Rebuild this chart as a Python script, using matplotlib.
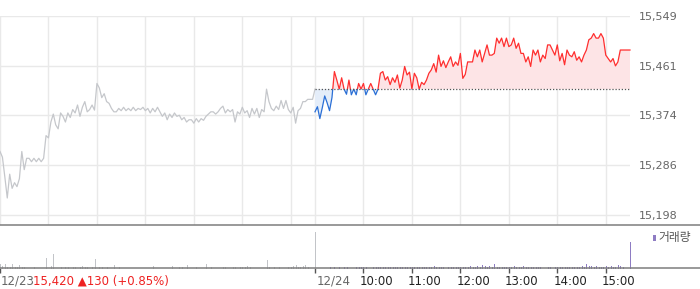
import numpy as np
import matplotlib
matplotlib.use("Agg")
import matplotlib.pyplot as plt
from matplotlib.patches import Rectangle
from matplotlib.lines import Line2D

# ---------------- data ----------------
base_price = 15420
y_ticks = [15198, 15286, 15374, 15461, 15549]
y_tick_labels = ["15,198", "15,286", "15,374", "15,461", "15,549"]
date_labels = ["12/23", "12/24"]
time_labels = ["10:00", "11:00", "12:00", "13:00", "14:00", "15:00"]
header_text = "15,420 \u25b2130 (+0.85%)"
legend_text = "거래량"

# 12/23 prices (3-minute samples, 09:00-15:30)
day1_prices = [
    15310, 15300, 15265, 15228, 15270, 15245, 15255, 15248, 15262, 15310,
    15278, 15298, 15298, 15292, 15298, 15292, 15298, 15292, 15298, 15338,
    15334, 15362, 15376, 15357, 15350, 15378, 15372, 15362, 15378, 15370,
    15384, 15378, 15392, 15372, 15388, 15398, 15380, 15384, 15392, 15383,
    15430, 15422, 15405, 15412, 15398, 15395, 15386, 15380, 15380, 15386,
    15382, 15388, 15382, 15386, 15382, 15388, 15382, 15386, 15384, 15388,
    15382, 15386, 15378, 15386, 15380, 15388, 15380, 15372, 15378, 15366,
    15376, 15370, 15378, 15372, 15374, 15366, 15370, 15362, 15366, 15366,
    15360, 15368, 15362, 15368, 15365, 15372, 15376, 15380, 15380, 15376,
    15380, 15386, 15390, 15378, 15384, 15380, 15384, 15362, 15380, 15376,
    15388, 15378, 15382, 15370, 15386, 15376, 15386, 15370, 15384, 15380,
    15420, 15398, 15386, 15382, 15390, 15384, 15400, 15386, 15400, 15384,
    15378, 15388, 15360, 15382, 15386, 15398, 15398, 15402, 15402, 15402,
    15420,
]

# 12/24 prices (3-minute samples, 09:00-15:30)
day2_prices = [
    15380, 15389, 15368, 15387, 15408, 15396, 15382, 15405, 15451, 15436,
    15420, 15440, 15420, 15411, 15436, 15410, 15420, 15410, 15430, 15420,
    15430, 15410, 15420, 15430, 15420, 15410, 15420, 15448, 15451, 15436,
    15442, 15428, 15440, 15432, 15445, 15422, 15436, 15460, 15445, 15450,
    15420, 15448, 15440, 15420, 15432, 15428, 15436, 15448, 15454, 15465,
    15450, 15480, 15460, 15470, 15458, 15468, 15477, 15460, 15468, 15462,
    15483, 15439, 15446, 15468, 15468, 15468, 15489, 15477, 15489, 15468,
    15483, 15498, 15480, 15480, 15483, 15510, 15501, 15510, 15495, 15510,
    15495, 15498, 15510, 15492, 15501, 15483, 15483, 15468, 15477, 15460,
    15489, 15480, 15489, 15468, 15480, 15474, 15498, 15498, 15489, 15480,
    15498, 15470, 15483, 15463, 15489, 15480, 15477, 15486, 15471, 15477,
    15468, 15480, 15489, 15507, 15510, 15518, 15510, 15510, 15518, 15510,
    15480, 15474, 15468, 15474, 15461, 15468, 15489, 15489, 15489, 15489,
    15489,
]

# volumes (thousand shares)
day1_volume = [
    4, 2, 4, 1.3, 1.3, 4, 1.3, 1.3, 3.3, 1.3,
    1.3, 0.7, 0, 0.7, 1.3, 0.7, 0, 0, 0, 10,
    0, 2.3, 14.3, 0, 0, 1.3, 0, 1.3, 1.3, 0.7,
    1.3, 1.3, 0.7, 1.3, 2, 1.3, 1.3, 0, 1.3, 9.3,
    0, 1.3, 1, 0, 1.3, 0, 0, 3.3, 0, 1.3,
    0, 0, 0, 0, 0, 0, 0, 0, 0, 0,
    0, 0, 0, 2.3, 0, 0, 0, 0, 0, 0,
    0, 2.3, 0, 0, 1.3, 1.3, 0, 3.3, 0, 0,
    0, 1.3, 0, 0, 0, 4.3, 0, 1, 0, 0,
    0, 0, 1.3, 1.3, 0, 0, 1.3, 1.3, 0, 1.3,
    1.3, 1.3, 2, 1.3, 0, 0, 0, 0, 0, 0,
    8.3, 1.3, 0, 1.3, 0, 1.3, 0, 0, 0, 1.3,
    1.3, 2, 3.3, 1.3, 1.3, 2, 3.3, 1.3, 0, 0,
    36,
]
day2_volume = [
    0.7, 0, 0, 0, 0, 0, 1, 0, 1, 0,
    1, 0, 1.3, 1.3, 0, 0, 0, 1, 1, 1,
    1, 1, 0, 0, 1, 1, 1, 1, 1, 1,
    1.3, 1, 1, 1.3, 1, 1, 1.3, 1, 1, 1.3,
    1, 1.3, 1, 1, 1.3, 1, 1.3, 1, 1.3, 2.3,
    1.3, 1, 1.3, 1, 0, 1, 1.3, 1, 1, 1.3,
    1, 1.3, 1, 1.3, 2, 1.3, 1.6, 2, 1.3, 3,
    2, 1.6, 2, 1.3, 4, 1.3, 1, 1.6, 1.3, 1,
    1.3, 1.6, 2, 1.3, 1.6, 1.3, 2.3, 1.3, 1, 1.3,
    1.3, 1, 1.3, 1, 0, 0, 1, 1.3, 0, 1,
    1.3, 1, 1.3, 1.3, 1, 1.3, 1.6, 1.3, 1.3, 1.6,
    2, 1.6, 4.7, 2.3, 2, 1.6, 2, 1.6, 1.3, 1.6,
    2, 1.6, 2.6, 1.3, 1.6, 3.7, 2, 1.3, 0, 0,
    26.3,
]

# ---------------- layout ----------------
W, H = 700, 289
STEP = 3            # minutes per sample
DAY = 390           # minutes per session
x1 = np.arange(len(day1_prices)) * STEP
x2 = DAY + np.arange(len(day2_prices)) * STEP
p1 = np.array(day1_prices, float)
p2 = np.array(day2_prices, float)

plt.rcParams['font.family'] = ['DejaVu Sans', 'Noto Sans CJK KR']

fig = plt.figure(figsize=(W / 100, H / 100), dpi=100)
fig.patch.set_facecolor("white")

def fx(px):
    return px / W

def fy(py):
    return 1 - py / H

plot_right = 630
main_top, main_bottom = 16, 225
vol_top, vol_bottom = 225, 268.3

ax = fig.add_axes([0, fy(main_bottom), fx(plot_right), (main_bottom - main_top) / H])
axv = fig.add_axes([0, fy(vol_bottom), fx(plot_right), (vol_bottom - vol_top) / H])

xmax = 2 * DAY
ymax = 15549
ymin = ymax - (main_bottom - main_top) * (351 / 199.0)
ax.set_xlim(0, xmax)
ax.set_ylim(ymin, ymax)

# grid
grid_c = "#e9e9e9"
for t in y_ticks:
    ax.axhline(t, color=grid_c, lw=1.0, zorder=0)
vgrid = [0, 60, 120, 180, 240, 300, 360, 390, 450, 510, 570, 630, 690, 750]
for g in vgrid:
    ax.plot([g, g], [ymin, ymax], color=grid_c, lw=1.0, zorder=0)

# previous day line
ax.plot(x1, p1, color="#c5c7cb", lw=0.9, zorder=3)

# today fills
ax.fill_between(x2, p2, base_price, where=p2 >= base_price, interpolate=True,
                color="#fde4e6", lw=0, zorder=1)
ax.fill_between(x2, p2, base_price, where=p2 <= base_price, interpolate=True,
                color="#e4edf9", lw=0, zorder=1)

# today line, coloured above/below base
red_line, = ax.plot(x2, p2, color="#ff2f2f", lw=0.9, zorder=4)
blue_line, = ax.plot(x2, p2, color="#2a6fd6", lw=0.9, zorder=4)
clip_up = Rectangle((DAY - 5, base_price), xmax, ymax - base_price + 200, transform=ax.transData)
clip_dn = Rectangle((DAY - 5, ymin - 200), xmax, base_price - ymin + 200, transform=ax.transData)
red_line.set_clip_path(clip_up)
blue_line.set_clip_path(clip_dn)

# base dotted line
ax.plot([DAY, xmax], [base_price, base_price], color="#555555", lw=0.9,
        linestyle=(0, (1, 1.5)), zorder=5)

ax.set_yticks(y_ticks)
ax.set_yticklabels(y_tick_labels)
ax.yaxis.tick_right()
ax.tick_params(axis='y', length=0, pad=6.5, labelsize=8, labelcolor="#666666")
ax.set_xticks([])
for s in ax.spines.values():
    s.set_visible(False)

# volume
axv.set_xlim(0, xmax)
axv.set_ylim(0, vol_bottom - vol_top)
axv.vlines(x1, 0, day1_volume, color="#c2c4c8", lw=0.5, antialiased=False, clip_on=False)
axv.vlines(x2, 0, day2_volume, color="#8e7cc3", lw=0.5, antialiased=False, clip_on=False)
axv.set_yticks([])
axv.set_xticks([0, 390, 450, 510, 570, 630, 690, 750])
axv.tick_params(axis='x', direction='out', length=3.6, width=1.0, color="#555555",
                labelbottom=False)
for s in axv.spines.values():
    s.set_visible(False)

# separator lines across the full width
for py in (vol_top, vol_bottom):
    fig.add_artist(Line2D([0, 1], [fy(py), fy(py)], transform=fig.transFigure,
                          color="#7d7d7d", lw=1.1))

# bottom labels
ly = fy(281.5)
fig.text(fx(1), ly, date_labels[0], color="#666666", fontsize=8.5, ha='left', va='center')
fig.text(fx(33), ly, header_text, color="#ee2222", fontsize=8.5, ha='left', va='center')
fig.text(fx(316.5), ly, date_labels[1], color="#666666", fontsize=8.5, ha='left', va='center')
for lbl, m in zip(time_labels, [450, 510, 570, 630, 690, 750]):
    px = m * plot_right / xmax
    fig.text(fx(px - 4), ly, lbl, color="#222222", fontsize=8.5, ha='left', va='center')

# volume legend
fig.add_artist(Rectangle((fx(653), fy(241)), fx(2.6), 6 / H, transform=fig.transFigure,
                         color="#8e7cc3", lw=0))
fig.text(fx(658), fy(238), legend_text, color="#555555", fontsize=8.5,
         ha='left', va='center', family=['Noto Sans CJK KR', 'DejaVu Sans'])

fig.savefig("out.png", dpi=100, facecolor="white")
